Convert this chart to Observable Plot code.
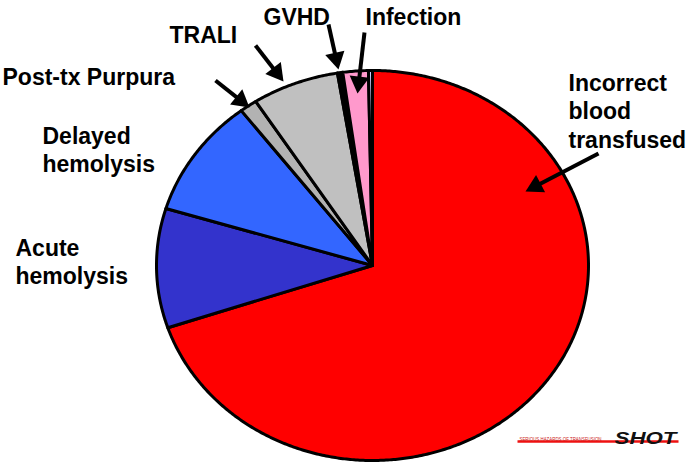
<!DOCTYPE html>
<html>
<head>
<meta charset="utf-8">
<script src="https://cdn.jsdelivr.net/npm/d3@7"></script>
<script src="https://cdn.jsdelivr.net/npm/@observablehq/plot@0.6"></script>
<style>
  html, body { margin: 0; padding: 0; background: #fff; }
  #chart svg { display: block; }
</style>
</head>
<body>
<div id="chart"></div>
<script>
// ---- data ----
const categories = ["Incorrect blood transfused", "Acute hemolysis", "Delayed hemolysis",
  "Post-tx Purpura", "TRALI", "GVHD", "Infection", "Other"];
const shares = [69.9, 9.9, 9.9, 1.3, 6.5, 0.4, 1.9, 0.3];
const sliceColors = ["#ff0000", "#3333cc", "#3366ff", "#b2b2b2", "#c0c0c0", "#000000", "#ff99cc", "#ccccff"];
const labelTexts = ["Incorrect\nblood\ntransfused", "Acute\nhemolysis", "Delayed\nhemolysis",
  "Post-tx Purpura", "TRALI", "GVHD", "Infection"];

// ---- layout (pixels) ----
const W = 691, H = 462;
const CX = 372, CY = 265, RX = 216, RY = 195;
const ux = px => (px - CX) / RX;
const uy = py => (CY - py) / RY;

// label anchors: left x, cap-top y
const labelPos = [[568, 70], [15, 235], [42, 123], [2, 64], [169, 22], [263, 4], [365, 4]];
const labels = labelTexts.map((t, i) => ({text: t, x: ux(labelPos[i][0]), y: uy(labelPos[i][1])}));

// arrows: from label to slice (pixels)
const arrowPos = [
  [[598, 153], [525, 191]],
  [[215, 80], [249, 107]],
  [[255, 45], [283, 81]],
  [[328, 24], [338, 69]],
  [[364, 32], [357, 93]]
];
const HEAD = 17;
const shafts = [], heads = [];
for (const [[x1, y1], [x2, y2]] of arrowPos) {
  const dx = x2 - x1, dy = y2 - y1, L = Math.hypot(dx, dy);
  const ex = dx / L, ey = dy / L;
  const cx = x2 - ex * HEAD * 2 / 3, cy = y2 - ey * HEAD * 2 / 3;
  const sx = x2 - ex * HEAD * 0.6, sy = y2 - ey * HEAD * 0.6;
  shafts.push({x1: ux(x1), y1: uy(y1), x2: ux(sx), y2: uy(sy)});
  heads.push({x: ux(cx), y: uy(cy), rotate: Math.atan2(dx, -dy) * 180 / Math.PI});
}
const side = 2 * HEAD / Math.sqrt(3);
const headR = Math.sqrt((side * side * Math.sqrt(3) / 4) / Math.PI);

// ---- pie geometry in unit space ----
const arcs = d3.pie().sort(null).value(d => d)(shares);
const pts = [];
arcs.forEach((a, i) => {
  const name = categories[i];
  pts.push({name, x: 0, y: 0});
  const n = Math.max(2, Math.ceil((a.endAngle - a.startAngle) / (Math.PI / 360)));
  for (let k = 0; k <= n; k++) {
    const t = a.startAngle + (a.endAngle - a.startAngle) * k / n;
    pts.push({name, x: Math.sin(t), y: Math.cos(t)});
  }
  pts.push({name, x: 0, y: 0});
});

const chart = Plot.plot({
  width: W, height: H,
  marginLeft: CX - RX, marginRight: W - (CX + RX),
  marginTop: CY - RY, marginBottom: H - (CY + RY),
  x: {domain: [-1, 1], axis: null},
  y: {domain: [-1, 1], axis: null},
  color: {domain: categories, range: sliceColors},
  style: {fontFamily: "'Liberation Sans', Arial, sans-serif", background: "#fff", overflow: "visible"},
  marks: [
    Plot.line(pts, {x: "x", y: "y", z: "name", fill: "name", stroke: "black", strokeWidth: 3, strokeLinejoin: "round", curve: "linear"}),
    Plot.link(shafts, {x1: "x1", y1: "y1", x2: "x2", y2: "y2", stroke: "black", strokeWidth: 4}),
    Plot.dot(heads, {x: "x", y: "y", rotate: "rotate", symbol: "triangle", r: headR, fill: "black", stroke: "none"}),
    Plot.text(labels, {x: "x", y: "y", text: "text", textAnchor: "start", lineAnchor: "top", fontSize: 23, fontWeight: "bold", lineHeight: 1.24, fill: "black"}),
    // SHOT logo
    Plot.link([{x1: ux(517), x2: ux(678), y: uy(441)}], {x1: "x1", x2: "x2", y1: "y", y2: "y", stroke: "#ee1111", strokeWidth: 2.5}),
    Plot.text(["SERIOUS HAZARDS OF TRANSFUSION"], {x: ux(519), y: uy(438.5), textAnchor: "start", fontSize: 5, fill: "#cc2222"}),
    Plot.text(["SHOT"], {x: ux(614), y: uy(431), textAnchor: "start", lineAnchor: "top", fontSize: 17, fontWeight: 900, fontStyle: "italic", fill: "#111"})
  ]
});
for (const t of chart.querySelectorAll("text")) {
  if (t.textContent === "SHOT") { t.setAttribute("textLength", 62); t.setAttribute("lengthAdjust", "spacingAndGlyphs"); }
  if (t.textContent === "SERIOUS HAZARDS OF TRANSFUSION") { t.setAttribute("textLength", 82); t.setAttribute("lengthAdjust", "spacingAndGlyphs"); }
}
document.getElementById("chart").append(chart);
</script>
</body>
</html>
